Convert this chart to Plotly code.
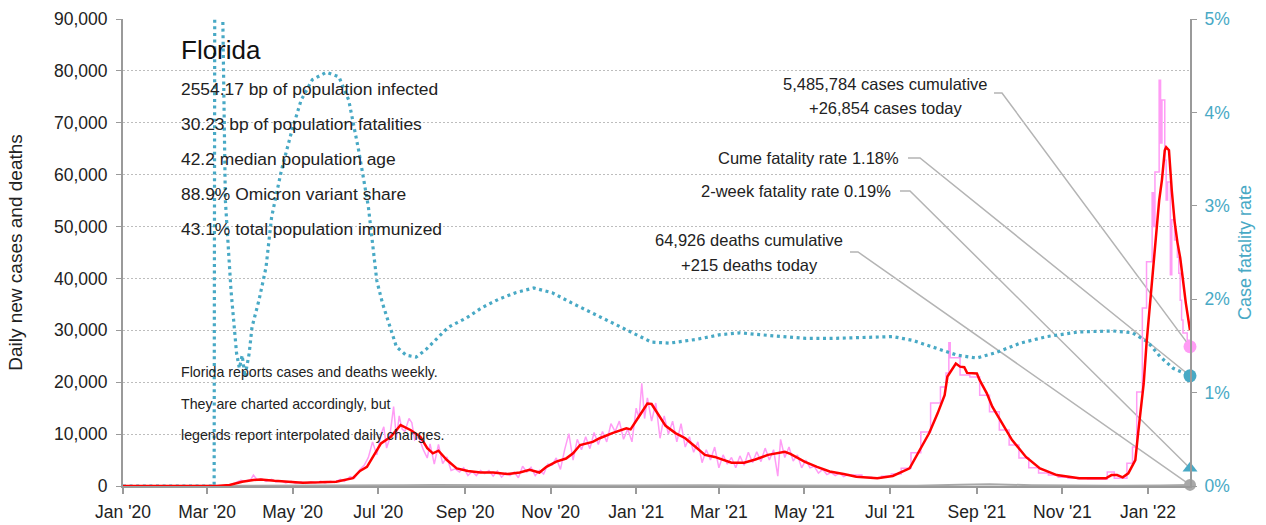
import plotly.graph_objects as go

# ---------------- data ----------------
red_dates = ["2020-01-01", "2020-03-08", "2020-03-17", "2020-03-26", "2020-04-03", "2020-04-08", "2020-04-18",
             "2020-04-26", "2020-05-08", "2020-05-20", "2020-06-01", "2020-06-13", "2020-06-18", "2020-06-23",
             "2020-06-27", "2020-07-03", "2020-07-10", "2020-07-17", "2020-07-24", "2020-07-31", "2020-08-05",
             "2020-08-09", "2020-08-13", "2020-08-19", "2020-08-26", "2020-09-03", "2020-09-12", "2020-09-21",
             "2020-10-01", "2020-10-10", "2020-10-17", "2020-10-24", "2020-10-29", "2020-11-05", "2020-11-12",
             "2020-11-17", "2020-11-22", "2020-12-01", "2020-12-06", "2020-12-15", "2020-12-25", "2020-12-28",
             "2021-01-03", "2021-01-09", "2021-01-12", "2021-01-17", "2021-01-22", "2021-01-29", "2021-02-05",
             "2021-02-12", "2021-02-19", "2021-02-26", "2021-03-05", "2021-03-10", "2021-03-19", "2021-03-27",
             "2021-04-05", "2021-04-12", "2021-04-17", "2021-04-21", "2021-05-01", "2021-05-10", "2021-05-19",
             "2021-05-29", "2021-06-07", "2021-06-22", "2021-07-03", "2021-07-15", "2021-07-22", "2021-07-29",
             "2021-08-04", "2021-08-09", "2021-08-11", "2021-08-14", "2021-08-17", "2021-08-20", "2021-08-23",
             "2021-08-25", "2021-09-01", "2021-09-03", "2021-09-08", "2021-09-12", "2021-09-19", "2021-09-26",
             "2021-10-06", "2021-10-16", "2021-10-28", "2021-11-13", "2021-12-02", "2021-12-06", "2021-12-10",
             "2021-12-14", "2021-12-18", "2021-12-23", "2021-12-25", "2021-12-29", "2021-12-31", "2022-01-02",
             "2022-01-04", "2022-01-07", "2022-01-09", "2022-01-11", "2022-01-13", "2022-01-14", "2022-01-16",
             "2022-01-18", "2022-01-20", "2022-01-22", "2022-01-24", "2022-01-26", "2022-01-28", "2022-01-31"]
red_vals = [0, 0, 200, 830, 1150, 1250, 1000,
            830, 650, 700, 830, 1500, 2900, 3700,
            5600, 8200, 9500, 11750, 10800, 9500, 7300,
            6300, 6800, 5000, 3400, 2900, 2600, 2600,
            2300, 2600, 3100, 2600, 3700, 4700, 5300,
            6300, 7900, 8500, 9200, 10200, 11100, 10900,
            13400, 15900, 15800, 13700, 11600, 10200, 9200,
            7600, 6000, 5600, 5000, 4500, 4500, 5100,
            6000, 6300, 6600, 6200, 4700, 3700, 2800,
            2300, 1800, 1500, 1930, 3400, 6900, 10200,
            14000, 17500, 21100, 22400, 23600, 23000, 22900,
            21800, 21700, 20400, 17900, 15300, 12100, 8900,
            5600, 3400, 2100, 1480, 1480, 2100, 2100,
            1670, 2440, 5000, 10200, 19800, 27500, 34000,
            40300, 50000, 55000, 59000, 64700, 65300, 64700,
            57000, 51000, 47000, 44000, 39700, 35300, 30000]

# daily reported cases (daily reporting period)
pink_dates = ["2020-03-10", "2020-03-14", "2020-03-18", "2020-03-21", "2020-03-25", "2020-03-28", "2020-04-01",
              "2020-04-03", "2020-04-06", "2020-04-09", "2020-04-12", "2020-04-16", "2020-04-19", "2020-04-23",
              "2020-04-26", "2020-04-30", "2020-05-03", "2020-05-07", "2020-05-10", "2020-05-14", "2020-05-17",
              "2020-05-21", "2020-05-24", "2020-05-28", "2020-05-31", "2020-06-04", "2020-06-07", "2020-06-11",
              "2020-06-14", "2020-06-18", "2020-06-21", "2020-06-24", "2020-06-27", "2020-06-30", "2020-07-03",
              "2020-07-05", "2020-07-07", "2020-07-09", "2020-07-12", "2020-07-14", "2020-07-16", "2020-07-18",
              "2020-07-20", "2020-07-23", "2020-07-25", "2020-07-27", "2020-07-30", "2020-08-02", "2020-08-05",
              "2020-08-07", "2020-08-10", "2020-08-13", "2020-08-16", "2020-08-19", "2020-08-22", "2020-08-25",
              "2020-08-28", "2020-08-31", "2020-09-03", "2020-09-06", "2020-09-09", "2020-09-12", "2020-09-15",
              "2020-09-18", "2020-09-21", "2020-09-24", "2020-09-27", "2020-09-30", "2020-10-03", "2020-10-06",
              "2020-10-09", "2020-10-12", "2020-10-15", "2020-10-18", "2020-10-21", "2020-10-24", "2020-10-27",
              "2020-10-30", "2020-11-02", "2020-11-05", "2020-11-08", "2020-11-11", "2020-11-14", "2020-11-17",
              "2020-11-20", "2020-11-23", "2020-11-26", "2020-11-29", "2020-12-02", "2020-12-05", "2020-12-08",
              "2020-12-11", "2020-12-14", "2020-12-17", "2020-12-20", "2020-12-23", "2020-12-26", "2020-12-29",
              "2021-01-01", "2021-01-03", "2021-01-05", "2021-01-07", "2021-01-09", "2021-01-12", "2021-01-15",
              "2021-01-18", "2021-01-21", "2021-01-24", "2021-01-27", "2021-01-30", "2021-02-02", "2021-02-05",
              "2021-02-08", "2021-02-11", "2021-02-14", "2021-02-17", "2021-02-20", "2021-02-23", "2021-02-26",
              "2021-03-01", "2021-03-04", "2021-03-07", "2021-03-10", "2021-03-13", "2021-03-16", "2021-03-19",
              "2021-03-22", "2021-03-25", "2021-03-28", "2021-03-31", "2021-04-03", "2021-04-06", "2021-04-09",
              "2021-04-12", "2021-04-14", "2021-04-17", "2021-04-20", "2021-04-23", "2021-04-26", "2021-04-29",
              "2021-05-02", "2021-05-05", "2021-05-08", "2021-05-11", "2021-05-14", "2021-05-17", "2021-05-20",
              "2021-05-23", "2021-05-26", "2021-05-29", "2021-06-01", "2021-06-04"]
pink_vals = [20, 100, 300, 600, 1100, 900, 1200,
             2100, 1100, 1400, 900, 1300, 800, 1000,
             600, 900, 500, 800, 500, 800, 600,
             900, 600, 900, 700, 1300, 900, 1800,
             1500, 3200, 4000, 5500, 8500, 6000, 10000,
             11400, 7300, 9000, 15300, 9200, 13500, 11000,
             10500, 13000, 12200, 8900, 9500, 7100, 5400,
             8100, 4200, 8000, 4300, 5600, 3000, 3300,
             2700, 3500, 2000, 2800, 2000, 3000, 2400,
             3000, 1900, 2900, 1700, 2500, 2000, 2700,
             1600, 3800, 2700, 3600, 2000, 3000, 2300,
             4200, 4000, 5400, 3200, 7000, 10100, 5000,
             9000, 7000, 9500, 7200, 10300, 8000, 10500,
             8500, 12000, 10500, 12500, 9000, 11000, 8500,
             15000, 13000, 19800, 13000, 17000, 12500, 16000,
             9200, 13500, 10000, 12500, 8500, 12000, 7500,
             9500, 6500, 8500, 4500, 7000, 5000, 7500,
             3500, 6000, 4200, 5500, 3500, 5800, 4000,
             6500, 4500, 6600, 4700, 7300, 5000, 7000,
             1900, 9000, 5500, 7500, 4800, 6000, 3500,
             5000, 3500, 3800, 2500, 3200, 2200, 2600,
             2000, 2500, 1800, 2200, 2100]

# weekly reporting period (drawn as steps)
pinkw_dates = ["2021-06-04", "2021-06-11", "2021-06-18", "2021-06-25", "2021-07-02", "2021-07-09", "2021-07-16",
               "2021-07-23", "2021-07-30", "2021-08-06", "2021-08-10", "2021-08-12", "2021-08-13", "2021-08-20",
               "2021-08-27", "2021-09-03", "2021-09-10", "2021-09-17", "2021-09-24", "2021-10-01", "2021-10-08",
               "2021-10-15", "2021-10-22", "2021-10-29", "2021-11-05", "2021-11-12", "2021-11-19", "2021-11-26",
               "2021-12-03", "2021-12-08", "2021-12-17", "2021-12-21", "2021-12-24", "2021-12-28", "2021-12-31",
               "2022-01-04", "2022-01-05", "2022-01-06", "2022-01-09", "2022-01-10", "2022-01-11", "2022-01-13",
               "2022-01-14", "2022-01-15", "2022-01-17", "2022-01-18", "2022-01-20", "2022-01-22", "2022-01-23",
               "2022-01-24", "2022-01-25", "2022-01-26", "2022-01-29", "2022-01-31"]
pinkw_vals = [2100, 1700, 1500, 1900, 2300, 3400, 6400,
              10400, 16000, 19100, 21800, 27600, 24700, 21400,
              21000, 17500, 14300, 10800, 7900, 5400, 3500,
              2500, 2100, 1700, 1500, 1400, 1300, 1300,
              2700, 1500, 4400, 7500, 18100, 34300, 43200,
              56500, 50000, 60500, 78200, 66100, 74400, 62800,
              55100, 58600, 40700, 51300, 47400, 44100, 41000,
              35800, 32000, 29500, 28100, 26854]

cfr_dates = ["2020-01-01", "2020-03-06", "2020-03-07", "2020-03-11", "2020-03-12", "2020-03-14", "2020-03-18",
             "2020-03-22", "2020-03-24", "2020-03-26", "2020-03-28", "2020-03-31", "2020-04-02", "2020-04-07",
             "2020-04-12", "2020-04-16", "2020-04-23", "2020-04-30", "2020-05-07", "2020-05-15", "2020-05-25",
             "2020-06-03", "2020-06-10", "2020-06-17", "2020-06-24", "2020-06-30", "2020-07-04", "2020-07-10",
             "2020-07-14", "2020-07-21", "2020-07-28", "2020-08-04", "2020-08-13", "2020-08-20", "2020-09-02",
             "2020-09-13", "2020-09-25", "2020-10-07", "2020-10-20", "2020-11-02", "2020-11-16", "2020-12-01",
             "2020-12-18", "2021-01-01", "2021-01-12", "2021-01-25", "2021-02-13", "2021-03-02", "2021-03-16",
             "2021-03-30", "2021-04-13", "2021-05-02", "2021-05-21", "2021-06-14", "2021-07-03", "2021-07-17",
             "2021-07-27", "2021-08-06", "2021-08-18", "2021-09-01", "2021-09-15", "2021-10-02", "2021-10-21",
             "2021-11-13", "2021-12-07", "2021-12-21", "2022-01-01", "2022-01-10", "2022-01-19", "2022-01-31"]
cfr_vals = [0, 0, 12, 12, 5.2, 3.06, 2.1,
            1.42, 1.26, 1.40, 1.17, 1.42, 1.70, 1.99,
            2.34, 2.88, 3.38, 3.78, 4.13, 4.35, 4.43,
            4.38, 4.13, 3.60, 2.99, 2.20, 1.96, 1.67,
            1.49, 1.40, 1.38, 1.46, 1.60, 1.70, 1.80,
            1.91, 2.00, 2.07, 2.12, 2.07, 1.96, 1.85,
            1.72, 1.62, 1.54, 1.53, 1.57, 1.62, 1.64,
            1.62, 1.60, 1.58, 1.58, 1.59, 1.60, 1.56,
            1.51, 1.46, 1.40, 1.37, 1.43, 1.53, 1.60,
            1.65, 1.66, 1.64, 1.54, 1.38, 1.26, 1.18]

death_dates = ["2020-01-01", "2020-03-15", "2020-04-10", "2020-05-15", "2020-06-15", "2020-07-20", "2020-08-10",
               "2020-09-15", "2020-10-20", "2020-11-20", "2020-12-20", "2021-01-20", "2021-02-20", "2021-03-20",
               "2021-04-20", "2021-05-20", "2021-06-20", "2021-07-20", "2021-08-20", "2021-09-10", "2021-10-10",
               "2021-11-10", "2021-12-10", "2022-01-10", "2022-01-31"]
death_vals = [0, 5, 50, 45, 40, 130, 180,
              110, 70, 75, 110, 160, 140, 80,
              60, 55, 40, 60, 250, 350, 150,
              50, 30, 110, 215]

state_name = "Florida"
stat_lines = ["2554.17 bp of population infected", "30.23 bp of population fatalities",
              "42.2 median population age", "88.9% Omicron variant share",
              "43.1% total population immunized"]
note_lines = ["Florida reports cases and deaths weekly.", "They are charted accordingly, but",
              "legends report interpolated daily changes."]
cases_cumulative = 5485784
cases_today = 26854
deaths_cumulative = 64926
deaths_today = 215
cume_fatality = 1.18
two_week_fatality = 0.19
start_date = "2020-01-01"
end_date = "2022-01-31"
y_max = 90000
y2_max = 5

# ---------------- styling ----------------
PINK = "#ff9cf5"
RED = "#ff0000"
TEAL = "#48a9c5"
GREY = "#a8a8a8"
AXIS = "#9a9a9a"
TXT = "Liberation Sans, Arial, sans-serif"

W, H = 1266, 525
L, R, T, B = 123, 76, 19, 39
PW, PH = W - L - R, H - T - B


def px(x):
    return (x - L) / PW


def py(y):
    return (H - B - y) / PH


fig = go.Figure()
fig.add_trace(go.Scatter(x=pink_dates, y=pink_vals, mode="lines", line=dict(color=PINK, width=1.5),
                         hoverinfo="skip", showlegend=False))
fig.add_trace(go.Scatter(x=pinkw_dates, y=pinkw_vals, mode="lines", line=dict(color=PINK, width=1.5, shape="hv"),
                         hoverinfo="skip", showlegend=False))
fig.add_trace(go.Scatter(x=death_dates, y=death_vals, mode="lines", line=dict(color=GREY, width=2),
                         hoverinfo="skip", showlegend=False))
fig.add_trace(go.Scatter(x=cfr_dates, y=cfr_vals, mode="lines", yaxis="y2",
                         line=dict(color=TEAL, width=3.2, dash="3px,3.6px"),
                         hoverinfo="skip", showlegend=False))
# 7-day average drawn on an overlay sharing the left scale so it sits above the dotted rate line
fig.add_trace(go.Scatter(x=red_dates, y=red_vals, mode="lines", yaxis="y3", line=dict(color=RED, width=2.5),
                         hoverinfo="skip", showlegend=False))
# end markers
fig.add_trace(go.Scatter(x=[end_date], y=[cases_today], mode="markers", cliponaxis=False, yaxis="y3",
                         marker=dict(color=PINK, size=13), hoverinfo="skip", showlegend=False))
fig.add_trace(go.Scatter(x=[end_date], y=[deaths_today], mode="markers", cliponaxis=False, yaxis="y3",
                         marker=dict(color=GREY, size=12), hoverinfo="skip", showlegend=False))
fig.add_trace(go.Scatter(x=[end_date], y=[cume_fatality], mode="markers", cliponaxis=False, yaxis="y2",
                         marker=dict(color=TEAL, size=13), hoverinfo="skip", showlegend=False))
fig.add_trace(go.Scatter(x=[end_date], y=[two_week_fatality], mode="markers", cliponaxis=False, yaxis="y2",
                         marker=dict(color=TEAL, size=13, symbol="triangle-up"), hoverinfo="skip",
                         showlegend=False))

ann = []
ann.append(dict(text=state_name, x=px(179), y=py(50), xref="paper", yref="paper", xanchor="left",
                yanchor="middle", showarrow=False, font=dict(family=TXT, size=26, color="#111")))
for i, s in enumerate(stat_lines):
    ann.append(dict(text=s, x=px(179), y=py(89 + 35 * i), xref="paper", yref="paper", xanchor="left",
                    yanchor="middle", showarrow=False, font=dict(family=TXT, size=17.4, color="#222")))
for i, s in enumerate(note_lines):
    ann.append(dict(text=s, x=px(179), y=py(372 + 31.5 * i), xref="paper", yref="paper", xanchor="left",
                    yanchor="middle", showarrow=False, font=dict(family=TXT, size=14.2, color="#222")))

AF = dict(family=TXT, size=16.5, color="#222")
ann.append(dict(text=f"{cases_cumulative:,} cases cumulative", x=px(885.5), y=py(84), xref="paper", yref="paper",
                xanchor="center", yanchor="middle", showarrow=False, font=AF))
ann.append(dict(text=f"+{cases_today:,} cases today", x=px(885.5), y=py(108), xref="paper", yref="paper",
                xanchor="center", yanchor="middle", showarrow=False, font=AF))
ann.append(dict(text=f"Cume fatality rate {cume_fatality:.2f}%", x=px(901), y=py(158), xref="paper",
                yref="paper", xanchor="right", yanchor="middle", showarrow=False, font=AF))
ann.append(dict(text=f"2-week fatality rate {two_week_fatality:.2f}%", x=px(893), y=py(191), xref="paper",
                yref="paper", xanchor="right", yanchor="middle", showarrow=False, font=AF))
ann.append(dict(text=f"{deaths_cumulative:,} deaths cumulative", x=px(749), y=py(240), xref="paper",
                yref="paper", xanchor="center", yanchor="middle", showarrow=False, font=AF))
ann.append(dict(text=f"+{deaths_today:,} deaths today", x=px(749), y=py(265), xref="paper", yref="paper",
                xanchor="center", yanchor="middle", showarrow=False, font=AF))

# connector lines: short stub from label, then diagonal to the end marker
connectors = [((994, 93), (1002, 93), cases_today / y_max),
              ((908, 158), (920, 158), cume_fatality / y2_max),
              ((900, 191), (910, 191), two_week_fatality / y2_max),
              ((850, 252), (858, 252), deaths_today / y_max)]
shapes = []
for (a, b, yend) in connectors:
    path = f"M {px(a[0])} {py(a[1])} L {px(b[0])} {py(b[1])} L 1 {yend}"
    shapes.append(dict(type="path", path=path, xref="paper", yref="paper", layer="below",
                       line=dict(color="#b4b4b4", width=1.5)))

fig.update_layout(
    width=W, height=H, margin=dict(l=L, r=R, t=T, b=B, autoexpand=False),
    paper_bgcolor="white", plot_bgcolor="white",
    annotations=ann, shapes=shapes, showlegend=False,
    xaxis=dict(type="date", range=[start_date, end_date], dtick="M2", tick0="2020-01-01",
               tickformat="%b '%y", showgrid=False, showline=True, linecolor=AXIS, linewidth=2,
               ticks="outside", ticklen=6, tickcolor=AXIS, tickwidth=1.5, automargin=False,
               ticklabelstandoff=3,
               tickfont=dict(family=TXT, size=17.5, color="#222"), zeroline=False),
    yaxis=dict(range=[0, y_max], dtick=10000, tickformat=",d", showgrid=True, gridcolor="#bdbdbd",
               griddash="2px,2px", gridwidth=1, showline=True, linecolor=AXIS, linewidth=2,
               ticks="outside", ticklen=5, tickcolor=AXIS, zeroline=False, automargin=False,
               ticklabelstandoff=5,
               tickfont=dict(family=TXT, size=17.5, color="#222"),
               title=dict(text="Daily new cases and deaths", font=dict(family=TXT, size=19, color="#222"),
                          standoff=26)),
    yaxis2=dict(range=[0, y2_max], dtick=1, ticksuffix="%", overlaying="y", side="right", showgrid=False,
                showline=True, linecolor=AXIS, linewidth=2, ticks="outside", ticklen=5, tickcolor=AXIS,
                zeroline=False, automargin=False, ticklabelstandoff=4,
                tickfont=dict(family=TXT, size=17.5, color=TEAL),
                title=dict(text="Case fatality rate", font=dict(family=TXT, size=18, color=TEAL),
                           standoff=10)),
    yaxis3=dict(range=[0, y_max], overlaying="y", visible=False, showgrid=False, zeroline=False),
)

fig.write_html("out.html", config={"displayModeBar": False},
               post_script="document.body.style.margin='0';document.body.style.overflow='hidden';")
